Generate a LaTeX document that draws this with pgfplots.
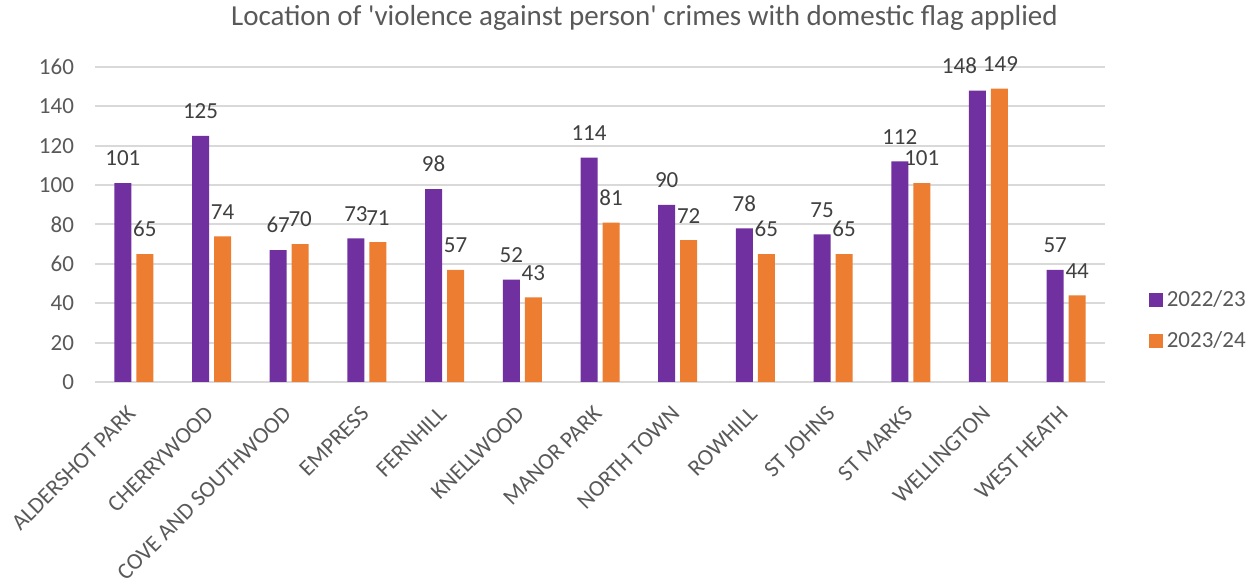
\documentclass[border=0pt]{standalone}
\usepackage{pgfplots}
\usepackage{pgfplotstable}
\pgfplotsset{compat=1.18}
\usepackage{fontspec}
\setmainfont{Carlito}
\definecolor{cpurple}{HTML}{7030A0}
\definecolor{corange}{HTML}{ED7D31}
\definecolor{cgrid}{HTML}{D9D9D9}
\definecolor{ctext}{HTML}{595959}
\definecolor{clabel}{HTML}{404040}
\pgfplotstableread{
x y dx
0 101 0
1 125 0
2 67 0
3 73 0
4 98 0
5 52 0
6 114 0
7 90 0
8 78 0
9 75 0
10 112 0
11 148 -9
12 57 0
}\dataA
\pgfplotstableread{
x y dx
0 65 0
1 74 0
2 70 0
3 71 0
4 57 0
5 43 0
6 81 0
7 72 0
8 65 0
9 65 0
10 101 0
11 149 0.5
12 44 0
}\dataB
\begin{document}
\begin{tikzpicture}
\path[use as bounding box] (-47.5pt,-102.5pt) rectangle (582.5pt,191pt);
\begin{axis}[
  at={(0,0)}, anchor=south west,
  scale only axis, width=505pt, height=157.5pt,
  ybar=2.5pt, bar width=8.5pt,
  xmin=-0.5, xmax=12.5, ymin=0, ymax=160,
  ytick={0,20,...,160},
  xtick=data,
  xticklabels={ALDERSHOT PARK,CHERRYWOOD,COVE AND SOUTHWOOD,EMPRESS,FERNHILL,KNELLWOOD,MANOR PARK,NORTH TOWN,ROWHILL,ST JOHNS,ST MARKS,WELLINGTON,WEST HEATH},
  major tick length=0pt,
  axis x line*=bottom,
  axis y line*=left,
  x axis line style={draw=cgrid, line width=1pt, -},
  y axis line style={draw=none},
  ymajorgrids, grid style={draw=cgrid, line width=1pt},
  /pgf/number format/assume math mode=true,
  tick label style={font=\fontsize{11.5}{13}\selectfont, text=ctext},
  yticklabel style={xshift=-7pt},
  xticklabel style={yshift=-13pt, rotate=45, anchor=east, xshift=2pt},
  title={Location of \textquotesingle violence against person\textquotesingle\ crimes with domestic flag applied},
  every axis title shift=0pt,
  title style={at={(0.544,1.156)}, anchor=center, font=\fontsize{14.5}{16}\selectfont, text=ctext},
  nodes near coords,
  visualization depends on={\thisrow{dx} \as \dx},
  every node near coord/.append style={font=\fontsize{11.5}{13}\selectfont, text=clabel, yshift=5pt, xshift=\dx pt},
  legend style={at={(1.043,0.194)}, anchor=west, draw=none, fill=none, inner sep=0pt,
     font=\fontsize{11.5}{13}\selectfont, text=ctext, row sep=7pt, cells={anchor=west}},
  legend image code/.code={\fill[#1] (0pt,-3.5pt) rectangle (7pt,3.5pt);},
]
\addplot[fill=cpurple, draw=none] table[x=x, y=y] {\dataA};
\addplot[fill=corange, draw=none] table[x=x, y=y] {\dataB};
\legend{2022/23,2023/24}
\end{axis}
\end{tikzpicture}
\end{document}
